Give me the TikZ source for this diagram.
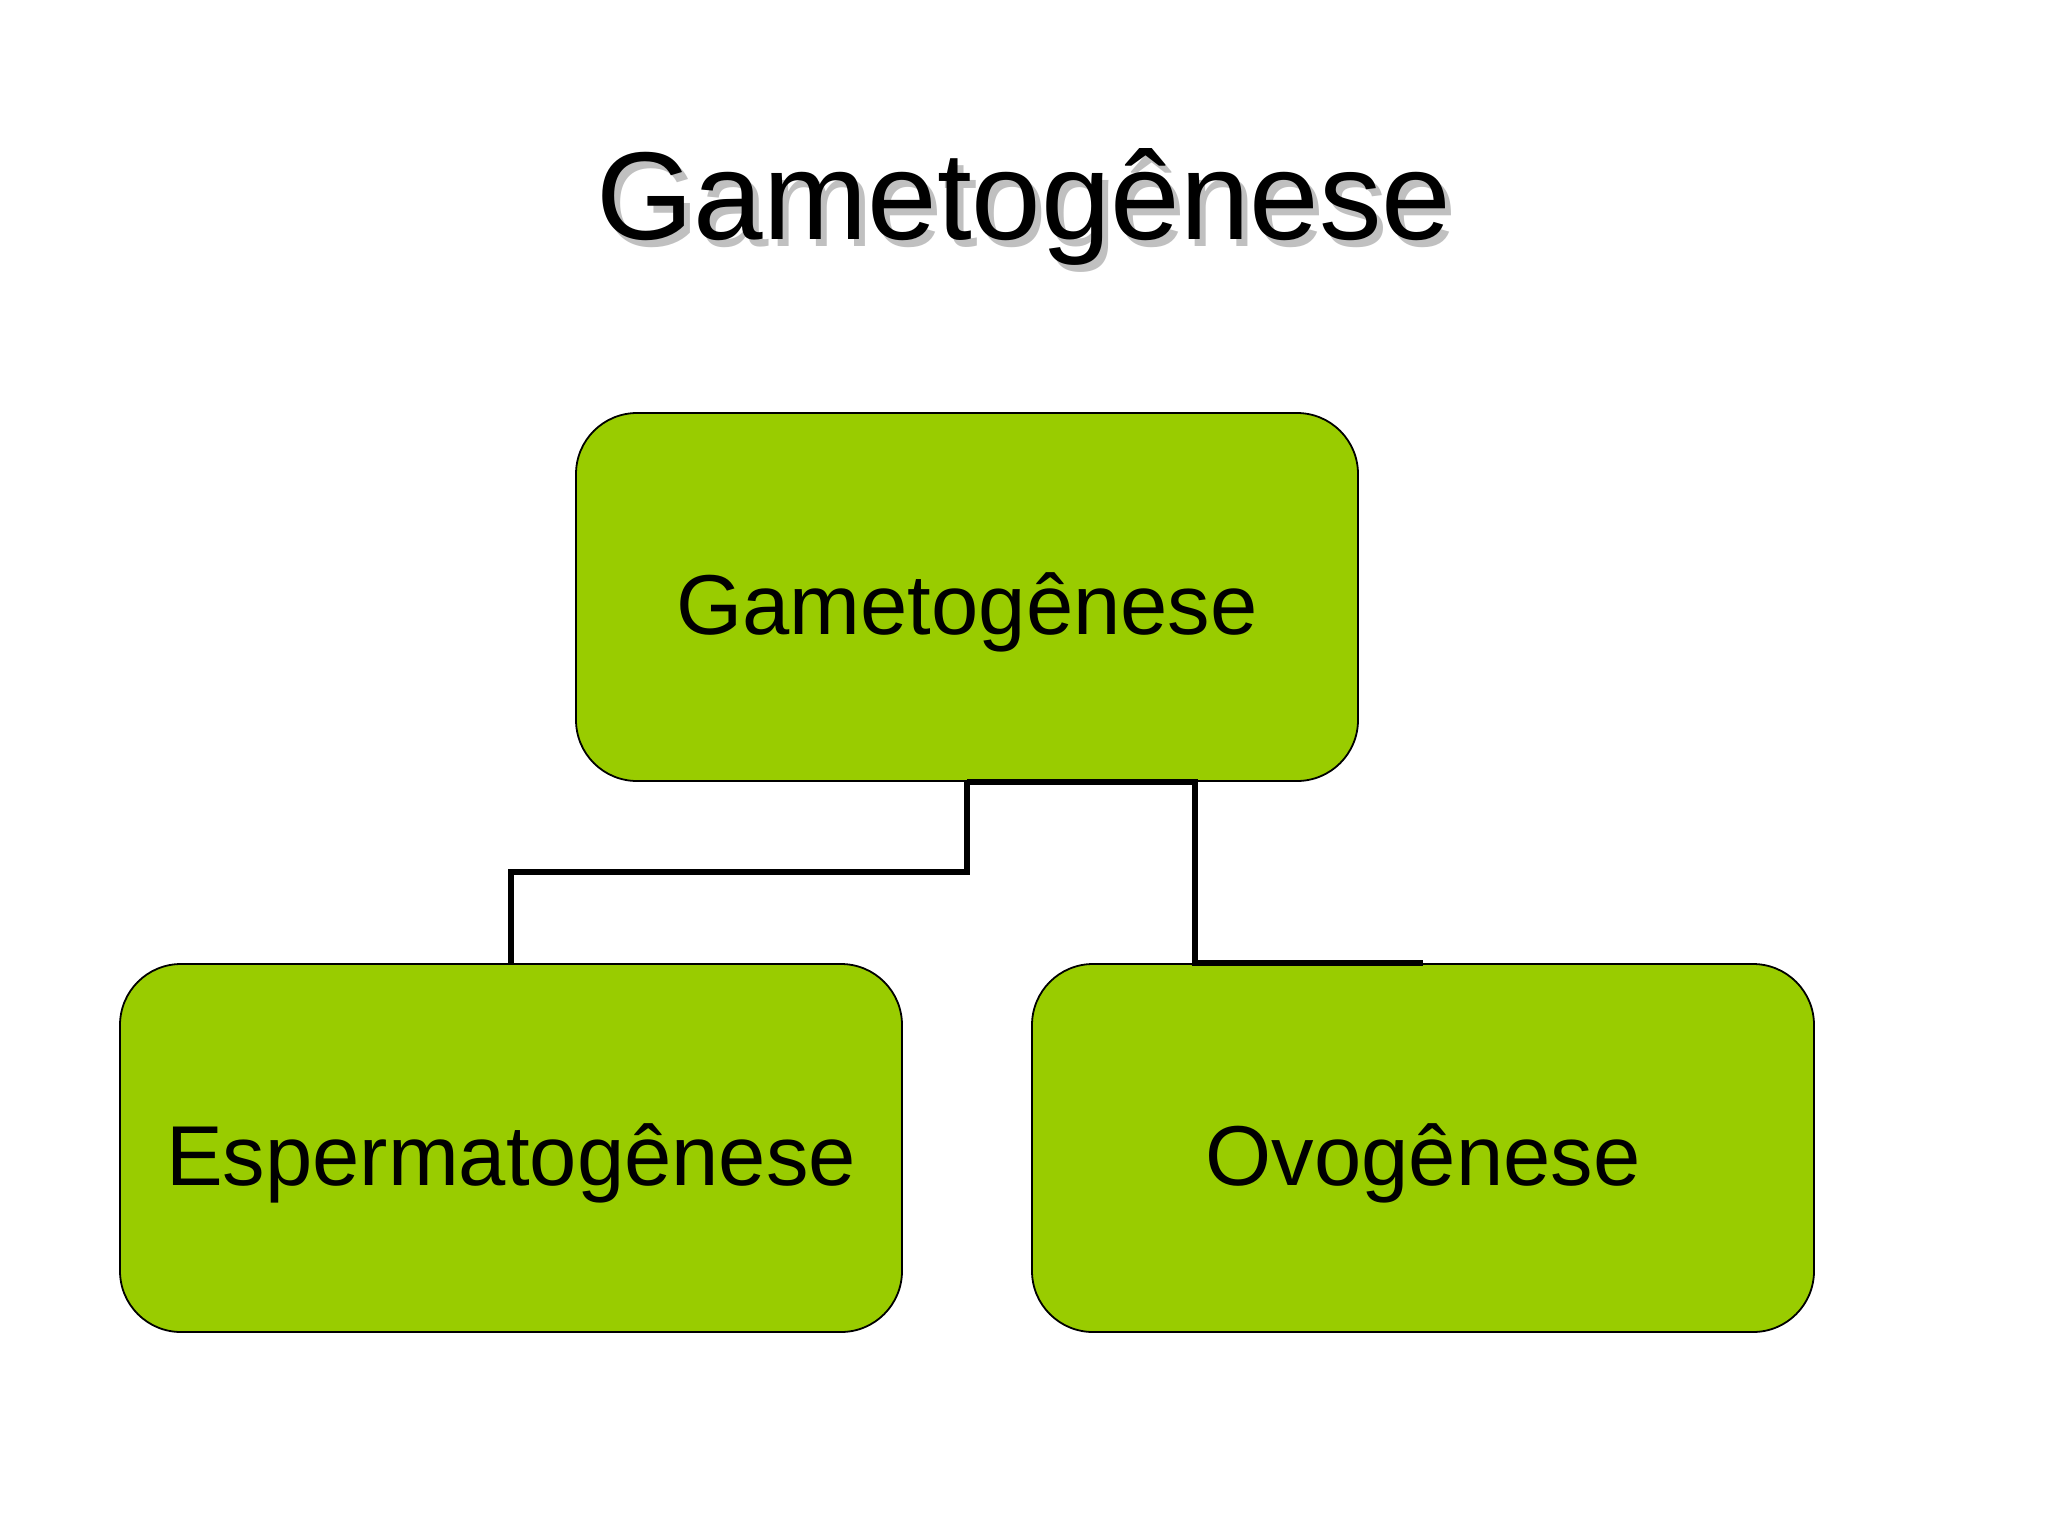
\documentclass[tikz,border=0pt]{standalone}
\usepackage{fontspec}
\setmainfont{Liberation Sans}
\definecolor{boxgreen}{HTML}{99CC00}
\definecolor{shadowgray}{HTML}{C0C0C0}
\begin{document}
\begin{tikzpicture}[x=0.5pt,y=-0.5pt,
  box/.style={draw=black, line width=0.9pt, fill=boxgreen, rounded corners=30.5pt,
    minimum width=391pt, minimum height=184pt, inner sep=0pt,
    font=\fontsize{42.5}{50}\selectfont, text height=37pt, text depth=0pt},
  titlefont/.style={font=\fontsize{62.5}{70}\selectfont, anchor=base, inner sep=0pt},
  conn/.style={draw=black, line width=3pt}]
\useasboundingbox (0,0) rectangle (2048,1536);
\fill[white] (0,0) rectangle (2048,1536);
\node[titlefont, text=shadowgray] (titleshadow) at (1030,246) {Gametogênese};
\node[titlefont, text=black] (title) at (1024,239) {Gametogênese};
\node[box] (top) at (967,597) {Gametogênese};
\node[box] (esp) at (511,1148) {Espermatogênese};
\node[box] (ovo) at (1423,1148) {Ovogênese};
\coordinate (jr) at (1195,0);
\draw[conn] (top.south) -- ++(0,90) -| (esp.north);
\draw[conn] (top.south) -- (top.south -| jr) -- (ovo.north -| jr) -- (ovo.north);
\end{tikzpicture}
\end{document}
